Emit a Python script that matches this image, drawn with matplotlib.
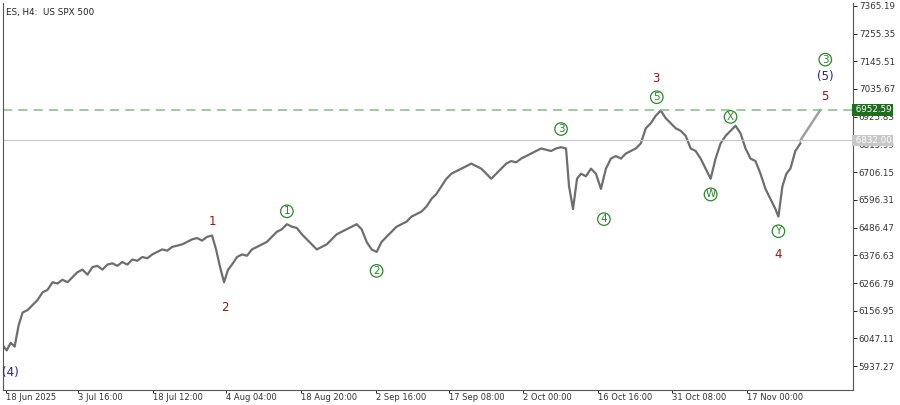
import matplotlib
matplotlib.use("Agg")
import matplotlib.pyplot as plt

# bar position (H4 bar index) and close price
bar_x = [0, 4, 8, 12, 16, 20, 25, 30, 35, 40, 45, 50, 55, 60, 65, 70, 75, 80, 85, 90,
         95, 100, 105, 110, 115, 120, 125, 130, 135, 140, 145, 150, 155, 160, 165, 170, 175, 180, 185, 190,
         195, 200, 205, 210, 214, 218, 222, 226, 230, 235, 240, 245, 250, 255, 260, 265, 270, 275, 280, 285,
         290, 295, 300, 305, 310, 315, 320, 325, 330, 335, 340, 345, 350, 355, 360, 365, 370, 375, 380, 385,
         390, 395, 400, 405, 410, 415, 420, 425, 430, 435, 440, 445, 450, 455, 460, 465, 470, 475, 480, 485,
         490, 495, 500, 505, 510, 515, 520, 525, 530, 535, 540, 545, 550, 555, 560, 565, 568, 572, 576, 580,
         585, 590, 595, 600, 605, 610, 615, 620, 625, 630, 635, 640, 645, 650, 655, 660, 665, 670, 675, 680,
         685, 690, 695, 700, 705, 710, 715, 720, 725, 730, 735, 740, 745, 750, 755, 760, 765, 770, 775, 778,
         782, 786, 790, 795, 800]
close = [6020, 6000, 6030, 6015, 6100, 6150, 6160, 6180, 6200, 6230, 6240, 6270, 6265, 6280, 6270, 6290, 6310, 6320, 6300, 6330,
         6335, 6320, 6340, 6345, 6335, 6350, 6340, 6360, 6355, 6370, 6365, 6380, 6390, 6400, 6395, 6410, 6415, 6420, 6430, 6440,
         6445, 6435, 6450, 6455, 6400, 6330, 6270, 6320, 6340, 6370, 6380, 6375, 6400, 6410, 6420, 6430, 6450, 6470, 6480, 6500,
         6490, 6485, 6460, 6440, 6420, 6400, 6410, 6420, 6440, 6460, 6470, 6480, 6490, 6500, 6480, 6430, 6400, 6390, 6430, 6450,
         6470, 6490, 6500, 6510, 6530, 6540, 6550, 6570, 6600, 6620, 6650, 6680, 6700, 6710, 6720, 6730, 6740, 6730, 6720, 6700,
         6680, 6700, 6720, 6740, 6750, 6745, 6760, 6770, 6780, 6790, 6800, 6795, 6790, 6800, 6805, 6800, 6650, 6560, 6680, 6700,
         6690, 6720, 6700, 6640, 6720, 6760, 6770, 6760, 6780, 6790, 6800, 6820, 6880, 6900, 6930, 6950, 6920, 6900, 6880, 6870,
         6850, 6800, 6790, 6760, 6720, 6680, 6760, 6820, 6850, 6870, 6890, 6860, 6800, 6760, 6750, 6700, 6640, 6600, 6560, 6530,
         6650, 6700, 6720, 6790, 6820]

proj_x = [800, 820]
proj_y = [6832.00, 6952.59]

target = 6952.59
current = 6832.00

price_ticks = [7365.19, 7255.35, 7145.51, 7035.67, 6925.83, 6815.99, 6706.15, 6596.31,
               6486.47, 6376.63, 6266.79, 6156.95, 6047.11, 5937.27]
date_pos = [3, 76, 151, 224, 299, 374, 448, 522, 597, 671, 746]
date_labels = ["18 Jun 2025", "3 Jul 16:00", "18 Jul 12:00", "4 Aug 04:00", "18 Aug 20:00",
               "2 Sep 16:00", "17 Sep 08:00", "2 Oct 00:00", "16 Oct 16:00", "31 Oct 08:00",
               "17 Nov 00:00"]

# wave labels: (text, bar, price, kind)
waves = [
    ("1", 210, 6512, "red"), ("2", 223, 6170, "red"), ("3", 655, 7077, "red"),
    ("4", 778, 6378, "red"), ("5", 825, 7007, "red"),
    ("1", 285, 6551, "c"), ("2", 375, 6315, "c"), ("3", 560, 6877, "c"),
    ("4", 603, 6520, "c"), ("5", 656, 7003, "c"), ("3", 825, 7152, "c"),
    ("W", 710, 6618, "c"), ("X", 730, 6925, "c"), ("Y", 778, 6472, "c"),
    ("(5)", 825, 7085, "blue"), ("(4)", 8, 5913, "blue"),
]

fig = plt.figure(figsize=(9, 4.05), dpi=100)
ax = fig.add_axes([0.003, 0.037, 0.945, 0.956])
ax.plot(bar_x, close, color="#6e6e6e", lw=1.6)
ax.plot(proj_x, proj_y, color="#a0a0a0", lw=1.8)
ax.axhline(target, color="#7fbf7f", ls=(0, (6, 4)), lw=1.1)
ax.axhline(current, color="#c8c8c8", lw=0.8)

ax.set_xlim(0, 853)
ax.set_ylim(5843, 7377)
ax.yaxis.tick_right()
ax.set_yticks(price_ticks)
ax.set_yticklabels([f"{p:.2f}" for p in price_ticks], fontsize=6.3, color="#333333")
ax.set_xticks(date_pos)
ax.set_xticklabels(date_labels, fontsize=6.0, color="#333333", ha="left")
ax.tick_params(axis="x", length=2, width=0.6, pad=0.5)
ax.tick_params(axis="y", length=3, width=0.6, pad=1)
ax.spines["top"].set_visible(False)
for sp in ("left", "bottom", "right"):
    ax.spines[sp].set_color("#555555")

ax.text(853, target, f" {target:.2f}", fontsize=6.3, color="white", va="center", ha="left",
        bbox=dict(boxstyle="square,pad=0.15", fc="#1e6e1e", ec="none"), clip_on=False)
ax.text(853, current, f" {current:.2f}", fontsize=6.3, color="white", va="center", ha="left",
        bbox=dict(boxstyle="square,pad=0.15", fc="#c8c8c8", ec="none"), clip_on=False)

ax.text(3, 7358, "ES, H4:  US SPX 500", fontsize=6.3, color="#222222", va="top")

for txt, bx, pr, kind in waves:
    if kind == "red":
        ax.text(bx, pr, txt, color="#a01010", fontsize=8.5, ha="center", va="center")
    elif kind == "blue":
        ax.text(bx, pr, txt, color="#20209a", fontsize=8.5, ha="center", va="center")
    else:
        ax.text(bx, pr, txt, color="#2a8a2a", fontsize=7.5, ha="center", va="center",
                bbox=dict(boxstyle="circle,pad=0.12", fc="none", ec="#2a8a2a", lw=0.9))

fig.savefig("out.png", dpi=100)
